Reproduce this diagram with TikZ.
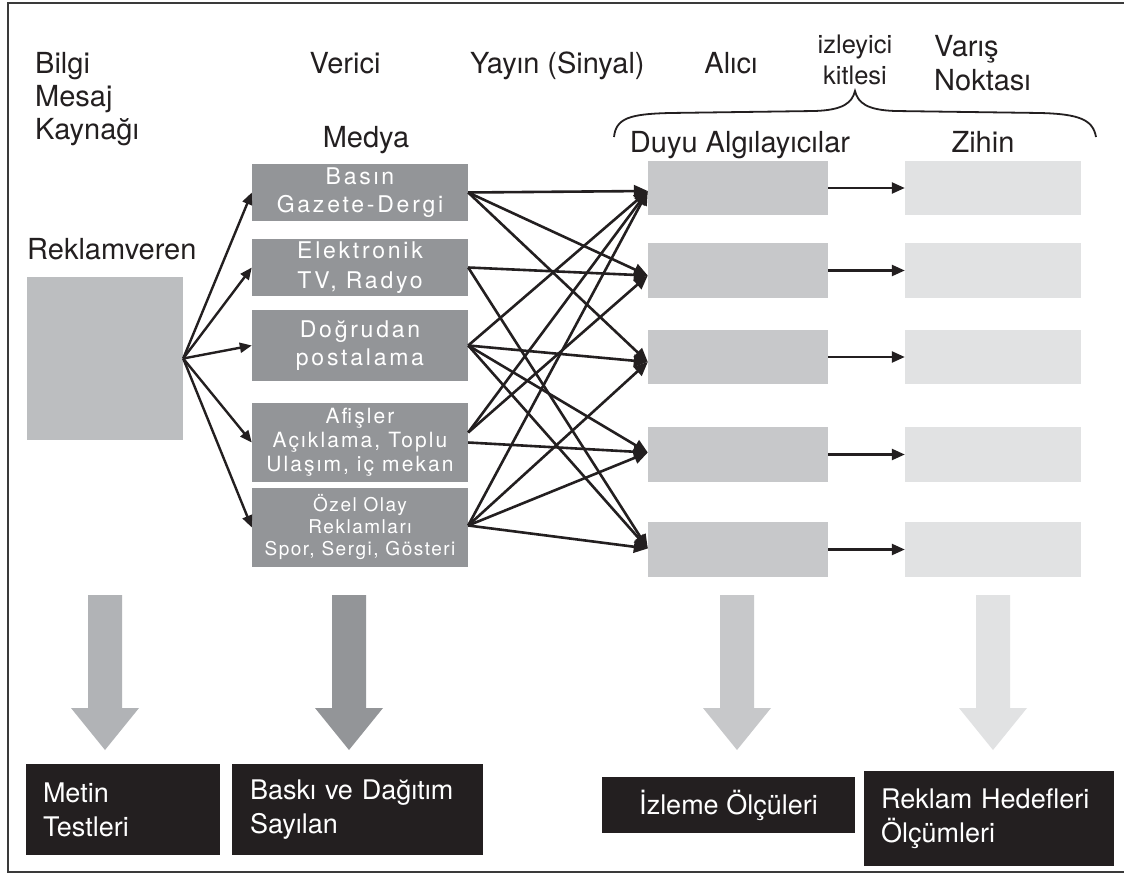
\documentclass[tikz,border=0pt]{standalone}
\usepackage{fontspec}
\setmainfont{TeX Gyre Heros}
\newfontfamily\mediafont[LetterSpace=12]{TeX Gyre Heros}
\newfontfamily\mediafontb[LetterSpace=10]{TeX Gyre Heros}
\newfontfamily\mediafontc[LetterSpace=8]{TeX Gyre Heros}
\usetikzlibrary{arrows.meta,calc}
\definecolor{medgray}{HTML}{939598}
\definecolor{srcgray}{HTML}{BCBEC0}
\definecolor{rgray}{HTML}{C7C8CA}
\definecolor{zgray}{HTML}{E1E2E3}
\definecolor{arrA}{HTML}{B1B3B6}
\definecolor{inkblack}{HTML}{231F20}
\definecolor{framecol}{HTML}{3A3A3A}
\newcommand\drawblockarrow[2]{%
  \fill[#2] (#1-17,595) -- (#1+17,595) -- (#1+17,708) -- (#1+34,708) -- (#1,750) -- (#1-34,708) -- (#1-17,708) -- cycle;}
\begin{document}
\begin{tikzpicture}[x=1pt,y=-1pt,
  lbl/.style={font=\fontsize{29}{34}\selectfont, inner sep=0pt, text=inkblack},
  smalllbl/.style={font=\fontsize{25.5}{30}\selectfont, inner sep=0pt, text=inkblack},
  medbox/.style={fill=medgray, text=white, minimum width=216pt, align=center, inner sep=0pt,
    font={\mediafont\fontsize{23}{28}\selectfont}},
  rbox/.style={fill=rgray, minimum width=180pt, inner sep=0pt},
  zbox/.style={fill=zgray, minimum width=176pt, inner sep=0pt},
  botbox/.style={fill=inkblack, text=white, inner sep=0pt, font=\fontsize{27}{34}\selectfont},
  srcarrow/.style={draw=inkblack, line width=2.4pt, -{Triangle[length=12pt,width=10pt]}},
  linkarrow/.style={draw=inkblack, line width=2.6pt, -{Triangle[length=14pt,width=12pt]}},
  zarrow/.style={draw=inkblack, line width=2.4pt, -{Triangle[length=13pt,width=11pt]}},
  bracestyle/.style={draw=inkblack, line width=1.8pt}
]
\useasboundingbox (0,0) rectangle (1124,874);
\fill[white] (0,0) rectangle (1124,874);
\draw[framecol, line width=2pt] (1124,3) -- (8,3) -- (8,872) -- (1124,872);

% header labels
\node[lbl, anchor=base west] (hBilgi) at (35,74) {Bilgi};
\node[lbl, anchor=base west] (hMesaj) at (35,107) {Mesaj};
\node[lbl, anchor=base west] (hKaynak) at (35,140) {Kaynağı};
\node[lbl, anchor=base] (hVerici) at (345,74) {Verici};
\node[lbl, anchor=base west] (hYayin) at (470,74) {Yayın (Sinyal)};
\node[lbl, anchor=base] (hAlici) at (731,74) {Alıcı};
\node[smalllbl, anchor=base] (hIzleyici) at (855,54) {izleyici};
\node[smalllbl, anchor=base] (hKitlesi) at (855,85) {kitlesi};
\node[lbl, anchor=base west] (hVaris) at (934,57) {Varış};
\node[lbl, anchor=base west] (hNoktasi) at (934,91) {Noktası};
\node[lbl, anchor=base] (hMedya) at (366,148) {Medya};
\node[lbl, anchor=base] (hDuyu) at (740,153) {Duyu Algılayıcılar};
\node[lbl, anchor=base] (hZihin) at (983,153) {Zihin};
\node[lbl, anchor=base west] (hReklam) at (27,260) {Reklamveren};

% brace
\draw[bracestyle] (614,137) .. controls (616,118) and (630,114) .. (670,113) -- (815,111)
  .. controls (843,110) and (852,103) .. (855,91)
  .. controls (858,103) and (867,110) .. (895,111) -- (1040,113)
  .. controls (1080,114) and (1093,120) .. (1096,137);

% source box
\node[fill=srcgray, minimum width=156pt, minimum height=163pt, inner sep=0pt] (S) at (105,358.5) {};

% media boxes
\node[medbox, minimum height=57pt] (M1) at (360,192.5) {Basın\\Gazete-Dergi};
\node[medbox, minimum height=57pt, font={\mediafont\fontsize{23}{30}\selectfont}] (M2) at (360,267.5) {Elektronik\\TV, Radyo};
\node[medbox, minimum height=71pt] (M3) at (360,345.5) {Doğrudan\\postalama};
\node[medbox, minimum height=79pt, font={\mediafontb\fontsize{21}{24}\selectfont}] (M4) at (360,442.5) {Afişler\\Açıklama, Toplu\\Ulaşım, iç mekan};
\node[medbox, minimum height=79pt, font={\mediafontc\fontsize{19}{22}\selectfont}] (M5) at (360,527.5) {Özel Olay\\Reklamları\\Spor, Sergi, Gösteri};

% receiver boxes
\node[rbox, minimum height=54pt] (R1) at (738,188) {};
\node[rbox, minimum height=55pt] (R2) at (738,270.5) {};
\node[rbox, minimum height=54pt] (R3) at (738,357) {};
\node[rbox, minimum height=55pt] (R4) at (738,454.5) {};
\node[rbox, minimum height=55pt] (R5) at (738,549.5) {};

% mind boxes
\node[zbox, minimum height=54pt] (Z1) at (993,188) {};
\node[zbox, minimum height=55pt] (Z2) at (993,270.5) {};
\node[zbox, minimum height=54pt] (Z3) at (993,357) {};
\node[zbox, minimum height=55pt] (Z4) at (993,454.5) {};
\node[zbox, minimum height=55pt] (Z5) at (993,549.5) {};

% source -> media
\foreach \m in {M1,M2,M3,M4,M5} \draw[srcarrow] (S.east) -- (\m.west);

% connection points
\coordinate (m1) at (M1.east);
\coordinate (m2) at (M2.east);
\coordinate (m3) at (M3.east);
\coordinate (m4a) at ([yshift=10pt]M4.east);
\coordinate (m4b) at (M4.east);
\coordinate (m5) at ([yshift=2pt]M5.east);
\coordinate (r1) at ([yshift=-3pt]R1.west);
\coordinate (r2) at ([yshift=-5pt]R2.west);
\coordinate (r3) at ([yshift=-5pt]R3.west);
\coordinate (r4) at ([yshift=2pt]R4.west);
\coordinate (r5) at ([yshift=1pt]R5.west);

\foreach \a/\b in {m1/r1,m1/r2,m1/r3,m2/r2,m2/r5,m3/r1,m3/r3,m3/r4,m3/r5,m4a/r1,m4a/r2,m4b/r4,m5/r1,m5/r3,m5/r4,m5/r5}
  \draw[linkarrow] (\a) -- (\b);

% receiver -> mind
\foreach \i in {1,...,5} \draw[zarrow] (R\i.east) -- (Z\i.west);

% block arrows
\drawblockarrow{105}{arrA}
\drawblockarrow{349}{medgray}
\drawblockarrow{737}{rgray}
\drawblockarrow{993}{zgray}

% bottom boxes
\node[botbox, minimum width=194pt, minimum height=91pt, text width=160pt, align=left, inner xsep=17pt] (B1) at (123,809.5) {Metin\\Testleri};
\node[botbox, minimum width=251pt, minimum height=91pt, text width=215pt, align=left, inner xsep=18pt] (B2) at (357.5,809.5) {Baskı ve Dağıtım\\Sayılan};
\node[botbox, minimum width=253pt, minimum height=56pt, align=center] (B3) at (728.5,805) {İzleme Ölçüleri};
\node[botbox, minimum width=250pt, minimum height=95pt, text width=216pt, align=left, inner xsep=17pt] (B4) at (989,818.5) {Reklam Hedefleri\\Ölçümleri};
\end{tikzpicture}
\end{document}
